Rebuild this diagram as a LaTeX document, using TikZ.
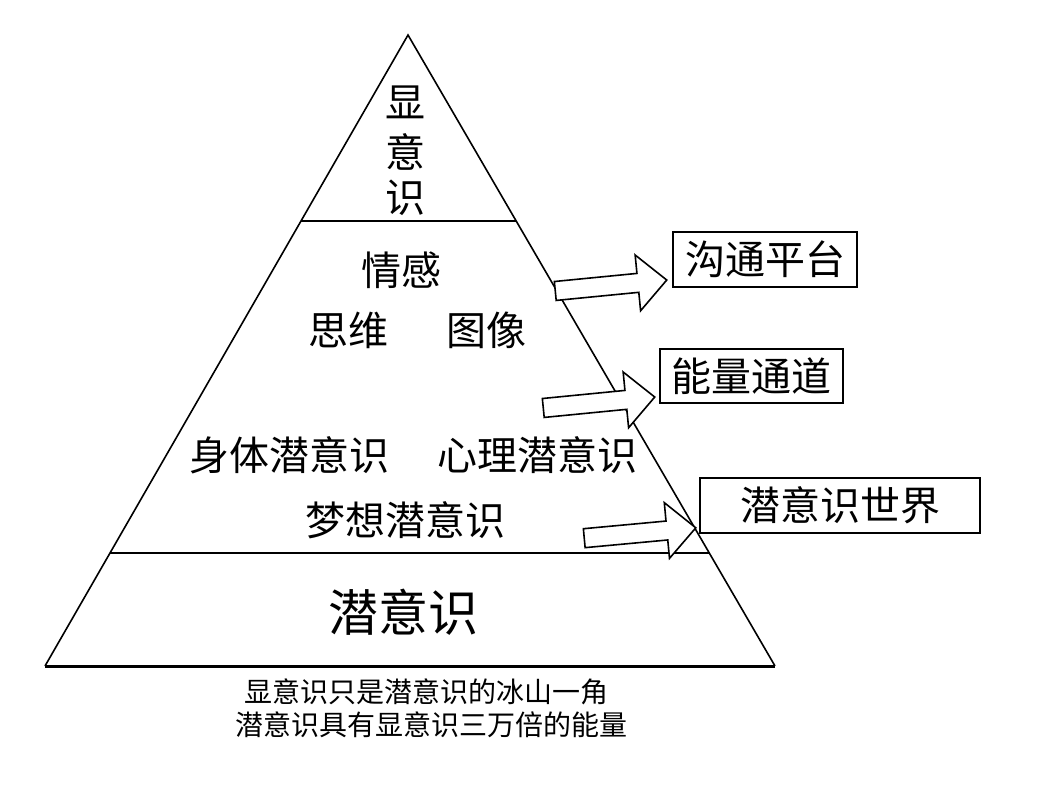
\documentclass[tikz,border=0pt]{standalone}
\usepackage{fontspec}
\setmainfont{Noto Sans CJK SC}
\begin{document}
\begin{tikzpicture}[x=1pt,y=-1pt,
  edge/.style={line width=1.6pt,black},
  lbl/.style={inner sep=0pt,font=\fontsize{40}{44}\selectfont},
  big/.style={inner sep=0pt,font=\fontsize{50}{56}\selectfont},
  note/.style={inner sep=0pt,font=\fontsize{28}{32}\selectfont},
  tagbox/.style={draw,line width=1.8pt,inner sep=0pt,font=\fontsize{40}{44}\selectfont},
  blockarr/.pic={\draw[line width=1.6pt,fill=white,line join=miter]
     (-56,-9.5) -- (27,-9.5) -- (27,-28) -- (56,0) -- (27,28) -- (27,9.5) -- (-56,9.5) -- cycle;}
]
\useasboundingbox (0,0) rectangle (1048,796);
% pyramid
\coordinate (apex) at (408,35);
\coordinate (bl) at (45,666);
\coordinate (br) at (775,666);
\coordinate (l1) at (301,221);
\coordinate (r1) at (516,221);
\coordinate (l2) at (110,553);
\coordinate (r2) at (709,553);
\draw[edge] (bl) -- (apex) -- (br);
\draw[edge] (l1) -- (r1);
\draw[edge] (l2) -- (r2);
\draw[line width=3pt] (bl) -- (br);
% labels inside
\node[lbl] (x1) at (405,102) {显};
\node[lbl] (x2) at (405,152) {意};
\node[lbl] (x3) at (405,198) {识};
\node[lbl] (qg) at (401,270) {情感};
\node[lbl] (sw) at (348,330) {思维};
\node[lbl] (tx) at (486,330) {图像};
\node[lbl] (st) at (289,455) {身体潜意识};
\node[lbl] (xl) at (537,455) {心理潜意识};
\node[lbl] (mx) at (405,520) {梦想潜意识};
\node[big] (qy) at (403,612) {潜意识};
% arrows
\pic[rotate=5.6] at (611,285.5) {blockarr};
\pic[rotate=5.6] at (599,402.5) {blockarr};
\pic[rotate=5.3] at (640,533) {blockarr};
% boxes
\node[tagbox,minimum width=184pt,minimum height=55pt] (b1) at (765,259.5) {沟通平台};
\node[tagbox,minimum width=183pt,minimum height=54pt] (b2) at (751.5,376) {能量通道};
\node[tagbox,minimum width=280pt,minimum height=55pt] (b3) at (840,505.5) {潜意识世界};
% bottom notes
\node[note] (n1) at (426,692) {显意识只是潜意识的冰山一角};
\node[note] (n2) at (431,725) {潜意识具有显意识三万倍的能量};
\end{tikzpicture}
\end{document}
